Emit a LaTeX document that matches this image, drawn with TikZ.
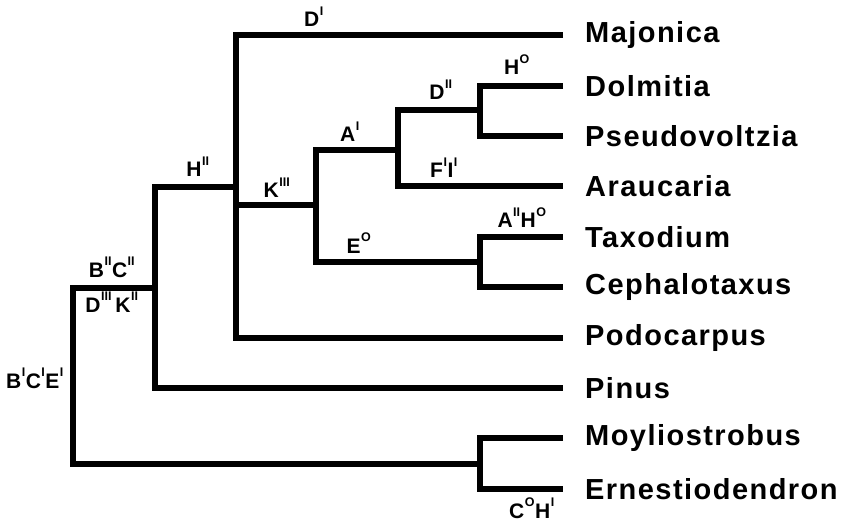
\documentclass[tikz,border=0pt]{standalone}
\usepackage{fontspec}
\setmainfont{Liberation Sans}
\newfontfamily\taxonfont[LetterSpace=5]{Liberation Sans}
% raised state marks (ticks and ring) after a character letter
\newcommand\mk[1]{\kern0.5pt\raisebox{1.0ex}{\fontsize{12.5}{12.5}\selectfont\bfseries #1}\kern0.5pt}
\newcommand\rim{\mk{O}}
\begin{document}
\begin{tikzpicture}[x=1pt,y=-1pt,
  br/.style={line width=6.5pt,line join=miter,line cap=butt},
  taxon/.style={anchor=west,inner sep=0pt,font=\taxonfont\fontsize{29}{29}\selectfont\bfseries},
  chr/.style={anchor=base,inner sep=0pt,font=\fontsize{21}{21}\selectfont\bfseries}]
\useasboundingbox (0,0) rectangle (845,521);

% leaf ends
\foreach \n/\y in {Maj/35,Dol/86,Pse/136,Ara/186,Tax/237,Cep/287,Pod/338,Pin/388,Moy/438,Ern/489}
  \coordinate (e\n) at (563,\y);

% taxa
\node[taxon] (tMaj) at (585,35) {Majonica};
\node[taxon] (tDol) at (585,86) {Dolmitia};
\node[taxon] (tPse) at (585,136) {Pseudovoltzia};
\node[taxon] (tAra) at (585,186) {Araucaria};
\node[taxon] (tTax) at (585,237) {Taxodium};
\node[taxon] (tCep) at (585,287) {Cephalotaxus};
\node[taxon] (tPod) at (585,338) {Podocarpus};
\node[taxon] (tPin) at (585,388) {Pinus};
\node[taxon] (tMoy) at (585,438) {Moyliostrobus};
\node[taxon] (tErn) at (585,489) {Ernestiodendron};

% internal nodes
\coordinate (cDP) at (480,110);
\coordinate (cA)  at (398,150);
\coordinate (cTC) at (480,262);
\coordinate (cK)  at (316,205);
\coordinate (cH)  at (236,187);
\coordinate (cP)  at (155,288);
\coordinate (cR)  at (73,375);
\coordinate (cMo) at (480,464);

% branches
\draw[br] (eDol) -| (cDP) |- (ePse);
\draw[br] (cDP) -| (cA) |- (eAra);
\draw[br] (eTax) -| (cTC) |- (eCep);
\draw[br] (cA) -| (cK) |- (cTC);
\draw[br] (eMaj) -| (cH) |- (ePod);
\draw[br] (cK) -- (cK -| cH);
\draw[br] (cH) -| (cP) |- (ePin);
\draw[br] (cP) -| (cR) |- (cMo);
\draw[br] (eMoy) -| (cMo) |- (eErn);

% character states
\node[chr] (sD1)  at (314,27)  {D\mk{I}};
\node[chr] (sH0)  at (517,75)  {H\rim};
\node[chr] (sD2)  at (441,100) {D\mk{II}};
\node[chr] (sA1)  at (350,142) {A\mk{I}};
\node[chr] (sFI)  at (444,178) {F\mk{I}I\mk{I}};
\node[chr] (sK3)  at (277,198) {K\mk{III}};
\node[chr] (sH2)  at (198,177) {H\mk{II}};
\node[chr] (sE0)  at (359,253) {E\rim};
\node[chr] (sAH)  at (522,228) {A\mk{II}H\rim};
\node[chr] (sBC)  at (112,277) {B\mk{II}C\mk{II}};
\node[chr] (sDK)  at (112,312) {D\mk{III}\,K\mk{II}};
\node[chr] (sBCE) at (35,388)  {B\mk{I}C\mk{I}E\mk{I}};
\node[chr] (sCH)  at (532,518) {C\rim H\mk{I}};
\end{tikzpicture}
\end{document}
